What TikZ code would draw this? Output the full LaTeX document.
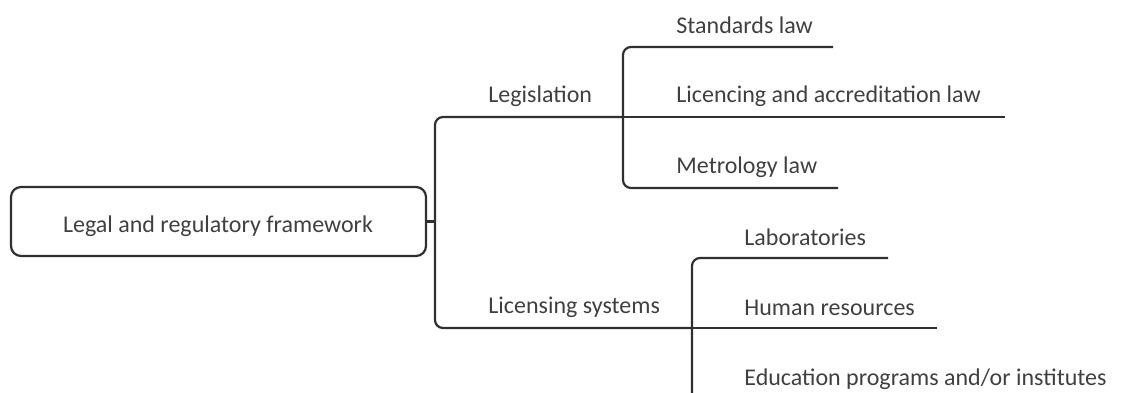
\documentclass[tikz,border=0pt]{standalone}
\usepackage{fontspec}
\setmainfont{Carlito}
\definecolor{txt}{HTML}{404040}
\definecolor{ln}{HTML}{303030}
\begin{document}
\begin{tikzpicture}[x=0.5pt,y=-0.5pt,
  conn/.style={draw=ln,line width=1.1pt,rounded corners=4pt},
  lbl/.style={anchor=base west,inner sep=0pt,text=txt,font=\fontsize{12}{14}\selectfont},
  rootbox/.style={draw=ln,line width=1.1pt,rounded corners=5pt,minimum width=207.5pt,minimum height=34.5pt,inner sep=0pt}]
\useasboundingbox (0,0) rectangle (1123,392);
\clip (0,0) rectangle (1123,392);
% root
\node[rootbox] (root) at (218.5,221.5) {};
\node[lbl,anchor=base] (rootlbl) at (218,232) {Legal and regulatory framework};
% junctions
\coordinate (j0) at (435,221.5);
\coordinate (legj) at (623,117);
\coordinate (licj) at (692,328);
\coordinate (legtop) at (435,117);
\coordinate (licbot) at (435,328);
% level-2 labels
\node[lbl] (leg) at (488,102.5) {Legislation};
\node[lbl] (lic) at (488,313.5) {Licensing systems};
% level-3 labels
\node[lbl] (std) at (676,33) {Standards law};
\node[lbl] (lal) at (676,102.5) {Licencing and accreditation law};
\node[lbl] (met) at (676,173) {Metrology law};
\node[lbl] (lab) at (744,245) {Laboratories};
\node[lbl] (hum) at (744,315) {Human resources};
\node[lbl] (edu) at (744,385) {Education programs and/or institutes};
% line ends
\coordinate (stdE) at (833,47);
\coordinate (stdC) at (623,47);
\coordinate (lalE) at (1005,117);
\coordinate (metE) at (838,188);
\coordinate (metC) at (623,188);
\coordinate (labE) at (888,258);
\coordinate (labC) at (692,258);
\coordinate (eduC) at (692,400);
\coordinate (humE) at (937,328);
% connectors
\draw[conn] (root.east) -- (j0);
\draw[conn] (legj) -- (legtop) -- (licbot) -- (licj);
\draw[conn] (legj) -- (lalE);
\draw[conn] (stdE) -- (stdC) -- (metC) -- (metE);
\draw[conn] (labE) -- (labC) -- (eduC);
\draw[conn] (licj) -- (humE);
\end{tikzpicture}
\end{document}
